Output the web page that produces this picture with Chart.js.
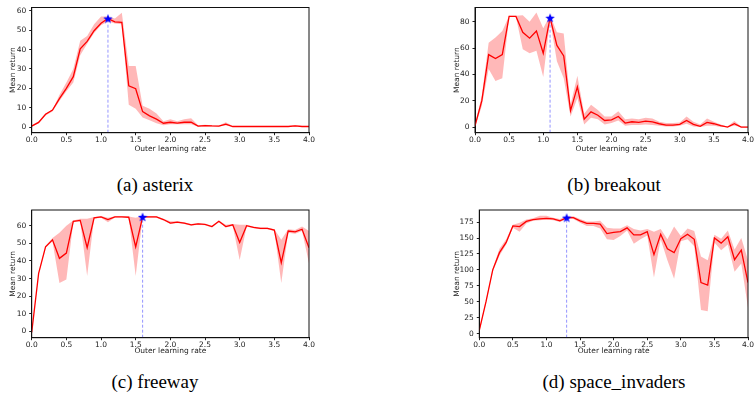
<!DOCTYPE html>
<html>
<head>
<meta charset="utf-8">
<script src="https://cdn.jsdelivr.net/npm/chart.js@4.4.1/dist/chart.umd.min.js"></script>
<style>
  body { margin: 0; background: #fff; width: 754px; height: 407px; position: relative; overflow: hidden; }
  .panel { position: absolute; }
  .cap { position: absolute; font-family: "Liberation Serif", serif; font-size: 19px; color: #000;
         transform: translate(-50%, -50%); white-space: nowrap; }
</style>
</head>
<body>
<canvas id="chart-asterix" class="panel" style="left:0px;top:0px" width="315" height="158"></canvas>
<canvas id="chart-breakout" class="panel" style="left:420px;top:0px" width="334" height="158"></canvas>
<canvas id="chart-freeway" class="panel" style="left:0px;top:200px" width="315" height="160"></canvas>
<canvas id="chart-space" class="panel" style="left:420px;top:200px" width="334" height="160"></canvas>
<div class="cap" style="left:155px;top:185px">(a) asterix</div>
<div class="cap" style="left:614px;top:185px">(b) breakout</div>
<div class="cap" style="left:155px;top:382px">(c) freeway</div>
<div class="cap" style="left:614px;top:382px">(d) space_invaders</div>
<script>
const xRates = [0.0, 0.1, 0.2, 0.3, 0.4, 0.5, 0.6, 0.7, 0.8, 0.9, 1.0,
  1.1, 1.2, 1.3, 1.4, 1.5, 1.6, 1.7, 1.8, 1.9, 2.0,
  2.1, 2.2, 2.3, 2.4, 2.5, 2.6, 2.7, 2.8, 2.9, 3.0,
  3.1, 3.2, 3.3, 3.4, 3.5, 3.6, 3.7, 3.8, 3.9, 4.0];
const xTicks = [0, 0.5, 1, 1.5, 2, 2.5, 3, 3.5, 4];

// asterix
const asterixMean = [0.5, 2.4, 6.6, 8.8, 14.7, 20, 26, 40.4, 44.2, 49.7, 53.6,
  56, 54.3, 54, 21.3, 19.8, 8, 5.8, 4.1, 2, 2.5,
  2, 2.5, 2.5, 0.5, 0.8, 0.6, 0.5, 1.5, 0.3, 0.3,
  0.3, 0.3, 0.3, 0.3, 0.3, 0.3, 0.3, 0.6, 0.3, 0.3];
const asterixLo = [0.3, 2, 6, 8, 13.5, 18.5, 23, 37, 43, 48.5, 52.5,
  54.5, 53.5, 53, 11.5, 9.5, 5, 3.5, 2, 1, 1.5,
  1.5, 1.5, 1.5, 0.2, 0.3, 0.3, 0.3, 0.8, 0.2, 0.2,
  0.2, 0.2, 0.2, 0.2, 0.2, 0.2, 0.2, 0.3, 0.2, 0.2];
const asterixHi = [1, 3, 7, 9, 16.5, 23, 30, 44.5, 47, 53, 57,
  57, 56, 59, 31.5, 31.5, 11, 9.5, 7, 3, 4,
  3, 4, 4.5, 1, 1.2, 1, 0.8, 2.5, 0.5, 0.5,
  0.5, 0.5, 0.5, 0.5, 0.5, 0.5, 0.5, 1, 0.5, 0.5];
const asterixBest = 1.1;
const asterixYTicks = [0, 10, 20, 30, 40, 50, 60];

// breakout
const breakoutMean = [1, 20, 55, 52, 55, 84, 84, 72, 67.5, 73, 56,
  83, 62, 54, 12.5, 30.5, 6, 11.5, 9, 5, 5.5,
  8, 3, 4, 3.5, 4.5, 4, 2.5, 1.5, 1.5, 2,
  5, 2, 0.5, 3.5, 2.5, 1, 0, 2.5, 0, 0];
const breakoutLo = [0, 16, 44, 35, 37, 83.5, 83.5, 59, 56, 58, 38,
  81, 50, 37, 8, 22, 2, 7, 6, 2, 3,
  5, 1, 1.5, 1.5, 2, 1.5, 1, 0.5, 0.5, 1,
  2.5, 0.5, 0, 1, 1, 0, 0, 1, 0, 0];
const breakoutHi = [2, 24, 64, 68, 73, 84.5, 84.5, 85, 80, 87, 75,
  85, 72, 71, 17, 39, 10, 17, 13, 8, 8,
  12, 6, 6.5, 6, 7, 6.5, 4, 3, 3, 3.5,
  8, 4, 2, 6.5, 4, 2, 0.5, 4.5, 0.5, 0.5];
const breakoutBest = 1.1;
const breakoutYTicks = [0, 20, 40, 60, 80];

// freeway
const freewayMean = [-0.5, 33, 48, 52, 41.5, 44.5, 62.5, 63, 47.5, 64.5, 65,
  63.5, 65, 65, 64.8, 48, 65, 65, 65, 63.5, 61.5,
  62, 61.5, 60.5, 61, 60.7, 59.5, 62.5, 59.5, 60.5, 50.5,
  60, 59, 58.5, 58.5, 57.5, 39, 57, 56.5, 58, 47.5];
const freewayLo = [-1, 32.5, 47.5, 51, 27.5, 29.5, 62, 62.5, 31.5, 64, 64.5,
  62, 64.7, 64.7, 64.5, 31.5, 64.5, 64.5, 64.5, 63, 61,
  61.5, 61, 60, 60.5, 60.3, 59, 62, 59, 60, 40.5,
  59.5, 58.5, 58, 58, 57, 27.5, 56, 55.5, 57, 38.5];
const freewayHi = [0, 33.5, 48.5, 53, 56, 60, 63, 64, 64, 65, 65.5,
  64.5, 65.3, 65.3, 65.2, 64.5, 65.5, 65.3, 65.3, 64, 62.5,
  62.5, 62, 61, 61.5, 61, 60, 63, 60.5, 61, 60.5,
  60.5, 59.5, 59, 59, 58, 52, 58, 57.5, 59.5, 57];
const freewayBest = 1.6;
const freewayYTicks = [0, 10, 20, 30, 40, 50, 60];

// space_invaders
const spaceMean = [5, 50, 100, 127, 143, 169, 168, 176, 179, 180, 181,
  180, 177, 182, 182, 177, 173, 173, 172, 157, 159,
  160, 166, 155, 155, 160, 124, 156, 133, 127, 149,
  156, 148, 80, 76, 150, 142, 152, 116, 131, 80];
const spaceLo = [3, 48, 97, 122, 140, 166, 160, 173, 177, 178, 179,
  178, 175, 180, 180, 174, 169, 169, 165, 148, 147,
  153, 162, 141, 148, 154, 88, 148, 115, 86, 145,
  148, 137, 37, 35, 143, 131, 140, 97, 110, 40];
const spaceHi = [7, 53, 102, 133, 148, 171, 174, 179, 181, 185, 185,
  182, 180, 184, 184, 180, 176, 176, 177, 166, 165,
  165, 170, 164, 162, 164, 160, 164, 148, 168, 153,
  165, 161, 121, 115, 155, 149, 162, 132, 150, 115];
const spaceBest = 1.3;
const spaceYTicks = [0, 25, 50, 75, 100, 125, 150, 175];

function starImage(size, color) {
  const c = document.createElement('canvas');
  c.width = size; c.height = size;
  const g = c.getContext('2d');
  const R = size / 2, r = R * 0.42, cx = size / 2, cy = size / 2 + size * 0.05;
  g.beginPath();
  for (let k = 0; k < 10; k++) {
    const a = -Math.PI / 2 + k * Math.PI / 5;
    const rad = k % 2 ? r : R;
    g.lineTo(cx + rad * Math.cos(a), cy + rad * Math.sin(a));
  }
  g.closePath();
  g.fillStyle = color;
  g.fill();
  return c;
}
const star = starImage(10, '#0000ff');

const frame = {
  id: 'frame',
  afterDatasetsDraw(chart) {
    const { ctx, chartArea: a } = chart;
    ctx.save();
    ctx.strokeStyle = '#111';
    ctx.lineWidth = 1;
    ctx.strokeRect(a.left, a.top, a.right - a.left, a.bottom - a.top);
    ctx.restore();
  }
};

const font = { family: 'DejaVu Sans', size: 7.5 };

function makePanel(id, mean, lo, hi, best, yTicks, yMin, yMax, geo) {
  const pts = arr => xRates.map((x, i) => ({ x, y: arr[i] }));
  const bestY = mean[xRates.indexOf(best)];
  new Chart(document.getElementById(id), {
    type: 'line',
    data: {
      datasets: [
        { data: [{ x: best, y: bestY }], showLine: false, pointStyle: star, pointRadius: 5 },
        { data: [{ x: best, y: yMin }, { x: best, y: bestY }], borderColor: 'rgba(60,60,255,0.55)',
          borderWidth: 1, borderDash: [3, 2], pointRadius: 0 },
        { data: pts(mean), borderColor: '#ff0000', borderWidth: 1.3, pointRadius: 0, tension: 0 },
        { data: pts(hi), borderWidth: 0, pointRadius: 0, fill: '+1', backgroundColor: 'rgba(255,0,0,0.28)' },
        { data: pts(lo), borderWidth: 0, pointRadius: 0, fill: false },
      ]
    },
    options: {
      responsive: false,
      animation: false,
      layout: { padding: { left: geo.padLeft, top: geo.padTop, right: geo.padRight, bottom: 0 } },
      plugins: { legend: { display: false }, tooltip: { enabled: false } },
      scales: {
        x: {
          type: 'linear', min: 0, max: 4,
          afterBuildTicks: s => { s.ticks = xTicks.map(v => ({ value: v })); },
          afterFit: s => { s.height = geo.xHeight; },
          ticks: { font, color: '#222', padding: 0, maxRotation: 0, autoSkip: false,
                   callback: v => Number(v).toFixed(1) },
          grid: { drawOnChartArea: false, tickLength: 2.5, color: '#222' },
          border: { color: '#111' },
          title: { display: true, text: 'Outer learning rate', font, color: '#222', padding: { top: 1, bottom: 4 } }
        },
        y: {
          min: yMin, max: yMax,
          afterBuildTicks: s => { s.ticks = yTicks.map(v => ({ value: v })); },
          afterFit: s => { s.width = geo.yWidth; },
          ticks: { font, color: '#222', padding: 3 },
          grid: { drawOnChartArea: false, tickLength: 2.5, color: '#222' },
          border: { color: '#111' },
          title: { display: true, text: 'Mean return', font, color: '#222', padding: { top: 4, bottom: 2 } }
        }
      }
    },
    plugins: [frame]
  });
}

makePanel('chart-asterix', asterixMean, asterixLo, asterixHi, asterixBest, asterixYTicks, -2.9, 61.7,
  { padLeft: 4.5, yWidth: 27.2, padRight: 6, padTop: 6.7, xHeight: 25.3 });
makePanel('chart-breakout', breakoutMean, breakoutLo, breakoutHi, breakoutBest, breakoutYTicks, -4.3, 90.8,
  { padLeft: 28.5, yWidth: 26.5, padRight: 1.7, padTop: 7, xHeight: 25.3 });
makePanel('chart-freeway', freewayMean, freewayLo, freewayHi, freewayBest, freewayYTicks, -3.5, 68.9,
  { padLeft: 4.5, yWidth: 27.2, padRight: 6, padTop: 10, xHeight: 22.3 });
makePanel('chart-space', spaceMean, spaceLo, spaceHi, spaceBest, spaceYTicks, -6.5, 194,
  { padLeft: 28.8, yWidth: 30.5, padRight: 1.3, padTop: 10, xHeight: 22.3 });
</script>
</body>
</html>
